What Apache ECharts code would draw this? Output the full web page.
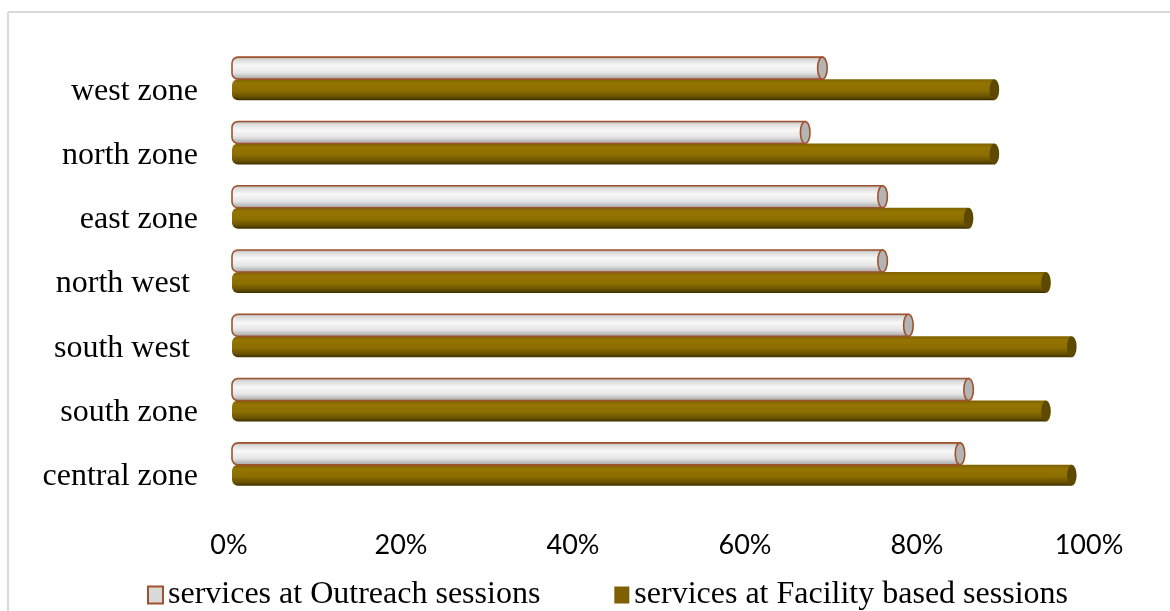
<!DOCTYPE html>
<html>
<head>
<meta charset="utf-8">
<script src="https://cdn.jsdelivr.net/npm/echarts@6/dist/echarts.min.js"></script>
<style>
  html, body { margin: 0; padding: 0; background: #fff; }
  #main { width: 1170px; height: 611px; }
</style>
</head>
<body>
<div id="main"></div>
<script>
// categories top to bottom
const categories = ['west zone', 'north zone', 'east zone', 'north west ', 'south west ', 'south zone', 'central zone'];
const outreach = [69, 67, 76, 76, 79, 86, 85];
const facility = [89, 89, 86, 95, 98, 95, 98];
const seriesNames = ['services at Outreach sessions', 'services at Facility based sessions'];

const ELLIPSE = 'M0,50 A50,50 0 1,1 100,50 A50,50 0 1,1 0,50 Z';

// draws one cylinder from 0 to value, dy/h = position relative to category centre
function cylinder(dy, h, bodyFill, capFill, stroke) {
  return function (params, api) {
    const cat = api.value(0);
    const val = api.value(1);
    const p0 = api.coord([0, cat]);
    const p1 = api.coord([val, cat]);
    const x0 = p0[0] + 3;
    const x1 = p1[0];
    const y = p0[1] + dy;
    const rx = 4.8;
    const lineStyle = stroke ? { stroke: stroke, lineWidth: 1.6 } : { stroke: null };
    return {
      type: 'group',
      children: [
        {
          type: 'rect',
          shape: { x: x0, y: y, width: x1 - x0, height: h, r: [6, 0, 0, 6] },
          style: Object.assign({ fill: bodyFill }, lineStyle)
        },
        {
          type: 'path',
          shape: { pathData: ELLIPSE, x: x1 - rx, y: y, width: rx * 2, height: h, layout: 'cover' },
          style: Object.assign({ fill: capFill }, lineStyle)
        }
      ]
    };
  };
}

const grayGrad = new echarts.graphic.LinearGradient(0, 0, 0, 1, [
  { offset: 0, color: '#a8a8a8' },
  { offset: 0.15, color: '#dcdcdc' },
  { offset: 0.4, color: '#f8f8f8' },
  { offset: 0.7, color: '#e4e4e4' },
  { offset: 1, color: '#9c9c9c' }
]);
const oliveGrad = new echarts.graphic.LinearGradient(0, 0, 0, 1, [
  { offset: 0, color: '#7d6200' },
  { offset: 0.2, color: '#957500' },
  { offset: 0.55, color: '#8c6e00' },
  { offset: 0.85, color: '#665000' },
  { offset: 1, color: '#3b2e00' }
]);

var myChart = echarts.init(document.getElementById('main'));
myChart.setOption({
  animation: false,
  graphic: [
    { type: 'line', shape: { x1: 8, y1: 12, x2: 1170, y2: 12 }, style: { stroke: '#d9d9d9', lineWidth: 2 } },
    { type: 'line', shape: { x1: 8, y1: 12, x2: 8, y2: 611 }, style: { stroke: '#d9d9d9', lineWidth: 2 } }
  ],
  grid: { left: 229, right: 81, top: 47, bottom: 114 },
  legend: {
    left: 142,
    top: 574,
    itemWidth: 15,
    itemHeight: 17,
    itemGap: 74,
    icon: 'rect',
    textStyle: { fontFamily: 'Liberation Serif', fontSize: 32, color: '#000' },
    data: [
      { name: seriesNames[0], itemStyle: { color: '#d9d9d9', borderColor: '#a0522d', borderWidth: 2 } },
      { name: seriesNames[1], itemStyle: { color: '#7f6000' } }
    ]
  },
  xAxis: {
    type: 'value',
    min: 0,
    max: 100,
    interval: 20,
    axisLine: { show: false },
    axisTick: { show: false },
    splitLine: { show: false },
    axisLabel: { formatter: '{value}%', fontFamily: 'Lato', fontSize: 27, color: '#000', margin: 35 }
  },
  yAxis: {
    type: 'category',
    inverse: true,
    data: categories,
    axisLine: { show: false },
    axisTick: { show: false },
    axisLabel: {
      fontFamily: 'Liberation Serif', fontSize: 32, color: '#000', margin: 31,
      verticalAlign: 'top', lineHeight: 24
    }
  },
  series: [
    {
      name: seriesNames[0],
      type: 'custom',
      z: 3,
      itemStyle: { color: '#d9d9d9' },
      encode: { x: 1, y: 0 },
      renderItem: cylinder(-22, 22, grayGrad, '#b4b4b4', '#a0522d'),
      data: categories.map((c, i) => [i, outreach[i]])
    },
    {
      name: seriesNames[1],
      type: 'custom',
      z: 2,
      itemStyle: { color: '#7f6000' },
      encode: { x: 1, y: 0 },
      renderItem: cylinder(0, 21, oliveGrad, '#5e4900', null),
      data: categories.map((c, i) => [i, facility[i]])
    }
  ]
});
</script>
</body>
</html>
